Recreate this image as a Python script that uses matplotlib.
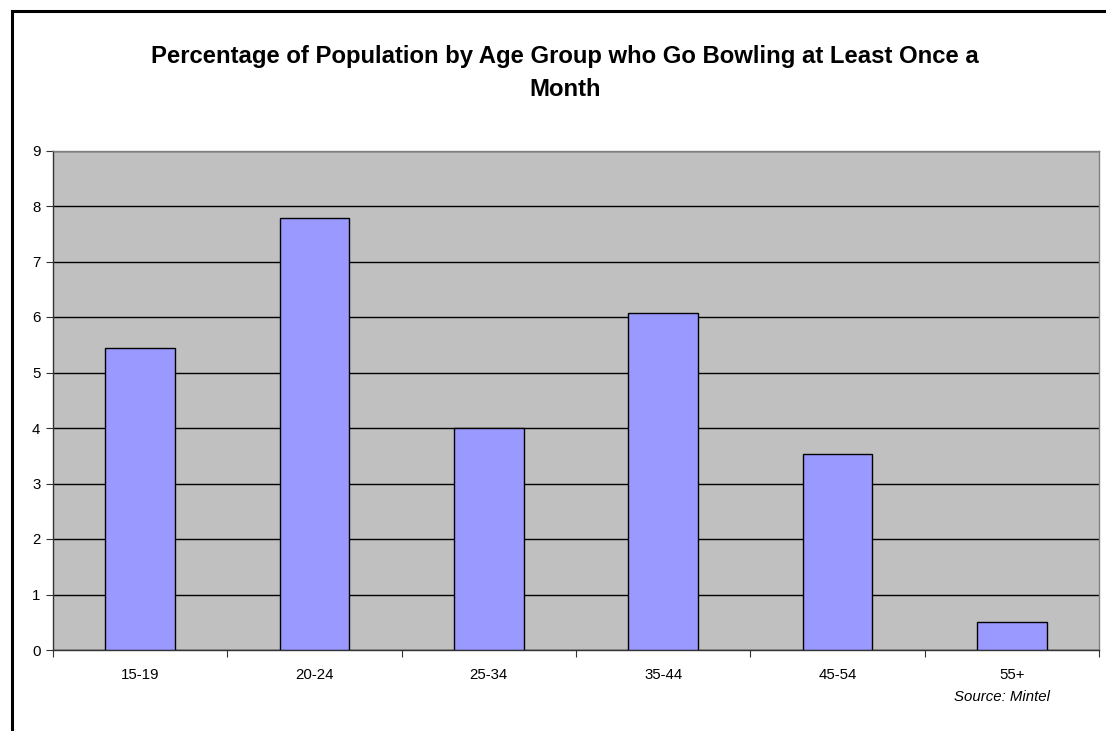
import matplotlib.pyplot as plt
import numpy as np
from matplotlib.patches import Rectangle

plt.rcParams['font.family'] = ['Liberation Sans', 'DejaVu Sans']

age_groups = ['15-19', '20-24', '25-34', '35-44', '45-54', '55+']
pct_bowling = [5.45, 7.78, 4.0, 6.08, 3.53, 0.5]
title_lines = ['Percentage of Population by Age Group who Go Bowling at Least Once a',
               'Month']

W, H = 1106, 731
fig = plt.figure(figsize=(W / 100, H / 100), dpi=100)

# outer chart frame (runs off the right and bottom edges)
fig.patches.append(Rectangle((12 / W, -0.1), 1.2, 1 - 11 / H + 0.1,
                             transform=fig.transFigure, fill=False,
                             edgecolor='black', linewidth=2.2))

left, right, top, bottom = 53, 1099, 150.5, 650
ax = fig.add_axes([left / W, 1 - bottom / H, (right - left) / W, (bottom - top) / H])
ax.set_facecolor('#C0C0C0')

x = np.arange(len(age_groups))
ax.bar(x, pct_bowling, width=0.4, color='#9999FF', edgecolor='black',
       linewidth=1.0, zorder=3)

ax.set_xlim(-0.5, len(age_groups) - 0.5)
ax.set_ylim(0, 9)
ax.set_yticks(range(0, 10))
ax.yaxis.grid(True, color='black', linewidth=1.0, zorder=1)
ax.set_axisbelow(True)

ax.set_xticks(x)
ax.set_xticklabels(age_groups)
ax.set_xticks(np.arange(-0.5, len(age_groups)), minor=True)
ax.tick_params(axis='x', which='major', length=0, pad=13, labelsize=10.8)
ax.tick_params(axis='x', which='minor', length=5, width=0.8, color='#333333')
ax.tick_params(axis='y', length=5, width=0.8, labelsize=10.8, pad=4, color='#333333')

for side in ['top', 'right']:
    ax.spines[side].set_color('#808080')
    ax.spines[side].set_linewidth(1.0)
for side in ['left', 'bottom']:
    ax.spines[side].set_color('#333333')
    ax.spines[side].set_linewidth(1.0)

# two-line title, each line placed on its own baseline
for line, base_y in zip(title_lines, [63, 96]):
    fig.text(565 / W, 1 - base_y / H, line, ha='center', va='baseline',
             fontsize=17.2, fontweight='bold')

fig.text(1050 / W, 1 - 697 / H, 'Source: Mintel', ha='right', va='center',
         fontsize=10.8, style='italic')

fig.savefig('out.png', dpi=100)
